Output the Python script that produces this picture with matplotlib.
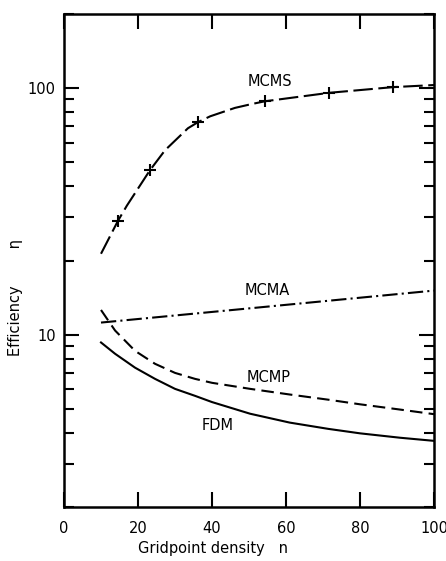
import matplotlib
matplotlib.use("Agg")
import matplotlib.pyplot as plt
from matplotlib.ticker import LogLocator, NullFormatter, FixedLocator

plt.rcParams['font.family'] = ['DejaVu Sans']
plt.rcParams['lines.scale_dashes'] = False

# ---- data ----
mcms_n = [10, 14.6, 17, 23.2, 27.3, 33.5, 36.2, 39.5, 46.2, 50.8, 54.3, 71.7, 88.9, 100]
mcms_eta = [21.3, 29, 33.4, 46.4, 56, 68.8, 72.8, 76.9, 83.2, 86.3, 88.5, 95.8, 101, 103]
mcms_mark_n = [14.6, 23.2, 36.2, 54.3, 71.7, 88.9]
mcms_mark_eta = [29, 46.4, 72.8, 88.5, 95.8, 101]

mcma_n = [10, 55, 100]
mcma_eta = [11.2, 13.0, 15.1]

mcmp_n = [10, 13.8, 19.2, 24.6, 30, 35.4, 40, 50.3, 61, 71.4, 80, 90.8, 100]
mcmp_eta = [12.6, 10.4, 8.6, 7.62, 7.0, 6.62, 6.38, 6.03, 5.72, 5.45, 5.22, 4.97, 4.76]

fdm_n = [10, 13.8, 19.2, 24.6, 30, 35.4, 40, 50.3, 61, 71.4, 80, 90.8, 100]
fdm_eta = [9.3, 8.37, 7.35, 6.62, 6.03, 5.65, 5.33, 4.78, 4.40, 4.15, 3.98, 3.82, 3.71]

labels = ['MCMS', 'MCMA', 'MCMP', 'FDM']
label_n = [55.7, 54.9, 55.4, 41.6]
label_eta = [106, 15.1, 6.68, 4.27]

x_ticks = [0, 20, 40, 60, 80, 100]
y_ticks = [10, 100]
y_tick_labels = ['10', '100']

fig = plt.figure(figsize=(4.46, 5.61), dpi=100)
ax = fig.add_axes([64/446, 1-507/561, 370/446, 493/561])

lw = 1.5
ax.plot(mcms_n, mcms_eta, color='black', lw=lw, dashes=(14, 4))
ax.plot(mcms_mark_n, mcms_mark_eta, ls='none', marker='+', ms=8, mew=1.5, color='black')
ax.plot(mcma_n, mcma_eta, color='black', lw=lw, dashes=(11, 3, 1.5, 3))
ax.plot(mcmp_n, mcmp_eta, color='black', lw=lw, dashes=(9, 4.5))
ax.plot(fdm_n, fdm_eta, color='black', lw=lw)

for t, xn, ye in zip(labels, label_n, label_eta):
    ax.text(xn, ye, t, ha='center', va='center', fontsize=10.5)

ax.set_yscale('log')
ax.set_xlim(0, 100)
ax.set_ylim(2, 200)

ax.xaxis.set_major_locator(FixedLocator(x_ticks))
ax.set_xticklabels([str(v) for v in x_ticks])
ax.yaxis.set_major_locator(FixedLocator(y_ticks))
ax.set_yticklabels(y_tick_labels)
ax.yaxis.set_minor_locator(LogLocator(base=10, subs=range(2, 10)))
ax.yaxis.set_minor_formatter(NullFormatter())

ax.tick_params(axis='both', which='major', direction='in', top=True, right=True,
               length=11, width=1.5, labelsize=10.5)
ax.tick_params(axis='x', which='major', pad=10)
ax.tick_params(axis='y', which='major', pad=6)
ax.tick_params(axis='y', which='minor', direction='in', right=True, left=True,
               length=7, width=1.5)
ax.tick_params(axis='x', which='minor', bottom=False, top=False)

for s in ax.spines.values():
    s.set_linewidth(1.8)

ax.set_xlabel('Gridpoint density   n', fontsize=10.5)
ax.xaxis.set_label_coords((213-64)/370, -0.068)
ax.set_ylabel('Efficiency        \u03b7', fontsize=10.5)
ax.yaxis.set_label_coords(-0.112, (507-298)/493)

fig.savefig('out.png', dpi=100)
